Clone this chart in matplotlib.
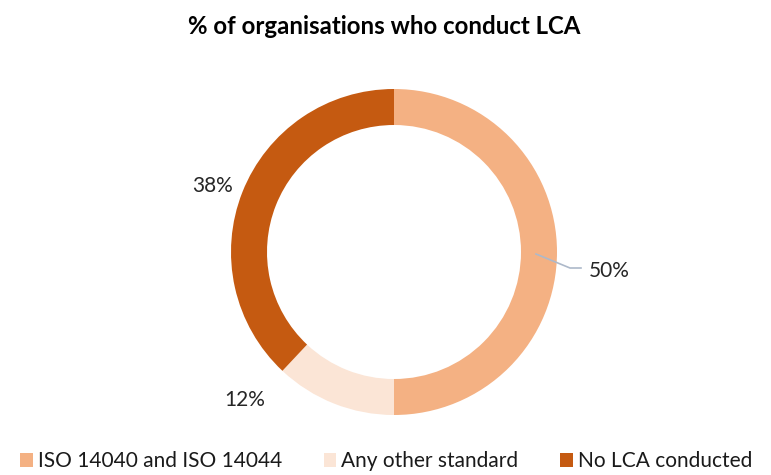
import matplotlib.pyplot as plt
import numpy as np
from matplotlib.patches import Patch

categories = ['ISO 14040 and ISO 14044', 'Any other standard', 'No LCA conducted']
shares = [50, 12, 38]
colors = ['#F4B183', '#FBE5D6', '#C55A11']
title = '% of organisations who conduct LCA'

plt.rcParams['font.family'] = ['Lato', 'DejaVu Sans']

W, H = 771, 475
fig = plt.figure(figsize=(W / 100, H / 100), dpi=100)
ax = fig.add_axes([0, 0, 1, 1])

# pixel-like coordinates with y pointing down, so angles run mirrored:
# start at -90 (top on screen) and go counterclockwise in data = clockwise on screen
cx, cy, r = 394, 252, 163
wedges, _ = ax.pie(shares, colors=colors, startangle=-90, counterclock=True,
                   center=(cx, cy), radius=r, frame=True,
                   wedgeprops=dict(width=36, linewidth=0))
ax.set_xlim(0, W)
ax.set_ylim(H, 0)
ax.set_aspect('equal')
ax.axis('off')

# data labels, placed around the ring
label_pos = [(609, 271), (245, 400), (213, 186)]
for v, (x, y) in zip(shares, label_pos):
    ax.text(x, y, f'{v}%', ha='center', va='center', fontsize=15, color='#262626')

# leader line for the first slice
ax.plot([536, 570, 581], [254, 268, 268], color='#ADB9CA', lw=1.2)

ax.text(W / 2 - 1, 26, title, ha='center', va='center', fontsize=17.3,
        fontweight='bold', color='black')

handles = [Patch(facecolor=c, edgecolor='none') for c in colors]
ax.legend(handles, categories, loc='lower left', bbox_to_anchor=(20 / W, 0.008),
          ncol=3, frameon=False, fontsize=15, handlelength=0.6, handleheight=0.7,
          handletextpad=0.25, columnspacing=2.0, borderpad=0, borderaxespad=0,
          labelcolor='#1a1a1a')

fig.savefig('out.png', dpi=100)
